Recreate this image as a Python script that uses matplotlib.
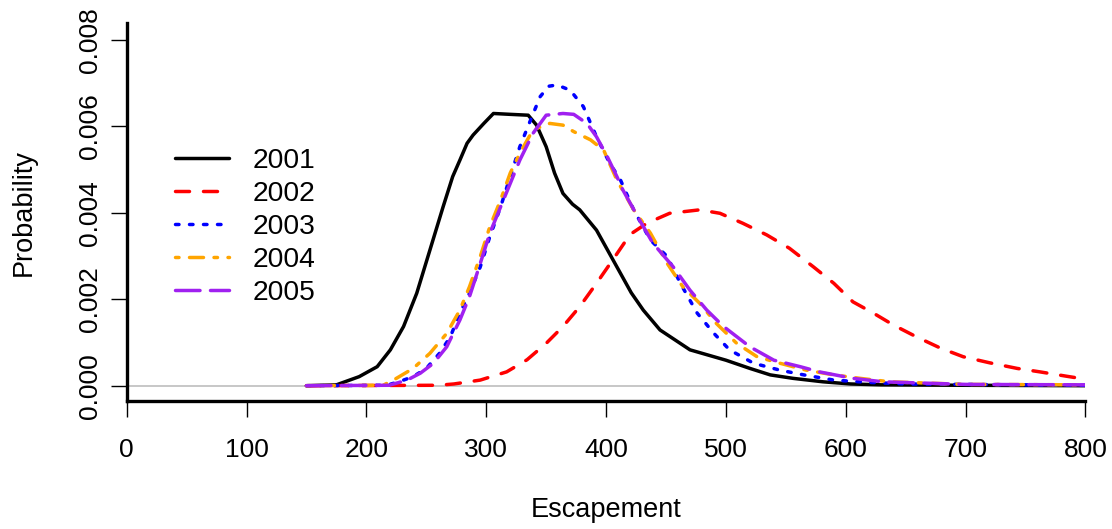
import matplotlib
matplotlib.use("Agg")
import matplotlib.pyplot as plt

plt.rcParams['font.family'] = ['Liberation Sans', 'DejaVu Sans']
plt.rcParams['lines.scale_dashes'] = False

years = ["2001", "2002", "2003", "2004", "2005"]
colors = ["black", "#ff0000", "#0000ff", "#ffa500", "#a020f0"]

x2001 = [150, 175, 194, 209, 220, 231, 242, 253, 264, 272, 278, 284, 289, 298, 306, 320, 335, 342, 350, 357,
         364, 372, 378, 392, 406, 421, 431, 445, 470, 500, 520, 537, 556, 581, 604, 630, 700, 800]
y2001 = [0, 0.00002, 0.00021, 0.00044, 0.00083, 0.00137, 0.00214, 0.00314, 0.00414, 0.00484, 0.00522, 0.00561,
         0.0058, 0.00607, 0.0063, 0.00628, 0.00626, 0.00603, 0.00553, 0.00492, 0.00445, 0.0042, 0.00407, 0.0036,
         0.0029, 0.00215, 0.00175, 0.00129, 0.00083, 0.00059, 0.0004, 0.00025, 0.00017, 0.00009, 0.00004,
         0.00002, 0.00001, 0.0]

x2002 = [150, 260, 273, 295, 317, 334, 350, 364, 378, 392, 406, 420, 434, 453, 478, 495, 514, 534, 553, 573,
         590, 606, 623, 640, 659, 679, 698, 720, 743, 762, 784, 800]
y2002 = [0, 0.00001, 0.00004, 0.00013, 0.00032, 0.0006, 0.00098, 0.00137, 0.00183, 0.00237, 0.00293, 0.0035,
         0.00376, 0.00399, 0.00407, 0.00399, 0.00376, 0.00349, 0.00318, 0.00275, 0.00237, 0.00194, 0.00168,
         0.0014, 0.00113, 0.00087, 0.00067, 0.00053, 0.0004, 0.00032, 0.00022, 0.00015]

x2003 = [150, 217, 228, 239, 250, 261, 270, 278, 286, 295, 303, 312, 320, 328, 337, 345, 352, 359, 370, 381,
         392, 403, 412, 423, 437, 451, 462, 476, 490, 503, 523, 545, 565, 590, 617, 650, 700, 800]
y2003 = [0, 0.00001, 0.0001, 0.00021, 0.0004, 0.00075, 0.00113, 0.00168, 0.00214, 0.00275, 0.00345, 0.00414,
         0.00484, 0.00553, 0.00615, 0.00669, 0.00693, 0.00696, 0.00684, 0.00646, 0.00576, 0.00515, 0.00476,
         0.00407, 0.00337, 0.00299, 0.00237, 0.00168, 0.00121, 0.00083, 0.00052, 0.00036, 0.00025, 0.00013,
         0.00008, 0.00004, 0.00003, 0.00001]

x2004 = [150, 214, 225, 239, 253, 267, 278, 286, 295, 303, 312, 320, 328, 339, 353, 364, 373, 387, 398, 409,
         423, 437, 451, 464, 478, 492, 509, 526, 545, 567, 590, 612, 637, 700, 800]
y2004 = [0, 0.00001, 0.00017, 0.0004, 0.00075, 0.00121, 0.00175, 0.00229, 0.00299, 0.00368, 0.0043, 0.00492,
         0.00538, 0.00592, 0.00607, 0.00603, 0.00588, 0.00569, 0.00545, 0.00476, 0.00407, 0.00353, 0.00283,
         0.00229, 0.00191, 0.00144, 0.00098, 0.00067, 0.00052, 0.00036, 0.00025, 0.00017, 0.00009, 0.00003,
         0.00002]

x2005 = [150, 219, 234, 245, 256, 267, 278, 286, 295, 303, 312, 320, 328, 339, 350, 364, 373, 384, 392, 401,
         409, 414, 428, 439, 456, 470, 484, 498, 520, 540, 562, 578, 606, 631, 700, 800]
y2005 = [0, 0.00001, 0.00013, 0.00029, 0.00052, 0.0009, 0.00152, 0.00206, 0.00283, 0.00353, 0.00414, 0.00468,
         0.00522, 0.00584, 0.00626, 0.0063, 0.00628, 0.00607, 0.00576, 0.0053, 0.00484, 0.00453, 0.00383,
         0.0033, 0.00275, 0.00221, 0.00175, 0.00137, 0.0009, 0.00059, 0.00044, 0.00032, 0.00017, 0.00009,
         0.00003, 0.00002]

xs = [x2001, x2002, x2003, x2004, x2005]
ys = [y2001, y2002, y2003, y2004, y2005]

xticks = [0, 100, 200, 300, 400, 500, 600, 700, 800]
yticks = [0.0, 0.002, 0.004, 0.006, 0.008]
ytick_labels = ["0.000", "0.002", "0.004", "0.006", "0.008"]

u = 2.52
dash_styles = [None, (0, (4 * u, 4 * u)), (0, (1 * u, 3 * u)), (0, (1 * u, 3 * u, 4 * u, 3 * u)),
               (0, (7 * u, 3 * u))]

W, H = 1112, 529
fig = plt.figure(figsize=(W / 100, H / 100), dpi=100)
ax = fig.add_axes([126.7 / W, 1 - 401 / H, (1085.5 - 126.7) / W, (401 - 23.3) / H])

ax.axhline(0, color="#bebebe", lw=1.2, zorder=1)

for x, y, c, ls, lab in zip(xs, ys, colors, dash_styles, years):
    kw = dict(color=c, lw=2.5, label=lab, solid_capstyle='round', dash_capstyle='round', zorder=2)
    if ls is not None:
        kw['linestyle'] = ls
    ax.plot(x, y, **kw)

ax.set_xlim(0, 800)
ax.set_ylim(-0.000354, 0.008387)

for s in ['top', 'right']:
    ax.spines[s].set_visible(False)
for s in ['left', 'bottom']:
    ax.spines[s].set_linewidth(2.4)

ax.set_xticks(xticks)
ax.set_xticklabels([str(v) for v in xticks])
ax.set_yticks(yticks)
ax.set_yticklabels(ytick_labels, rotation=90, va='center')
ax.tick_params(axis='both', direction='out', length=11.5, width=1.0, labelsize=19)
ax.tick_params(axis='x', pad=15)
ax.tick_params(axis='y', pad=6)

ax.set_xlabel("Escapement", fontsize=19.5, labelpad=25)
ax.set_ylabel("Probability", fontsize=19.5, labelpad=30)

leg = ax.legend(loc='upper left', bbox_to_anchor=(175.3 / W, 1 - 148 / H), bbox_transform=fig.transFigure,
                frameon=False, fontsize=20.3, handlelength=1.91, handletextpad=0.84,
                borderpad=0, borderaxespad=0, labelspacing=0.245)

fig.savefig("out.png", dpi=100)
